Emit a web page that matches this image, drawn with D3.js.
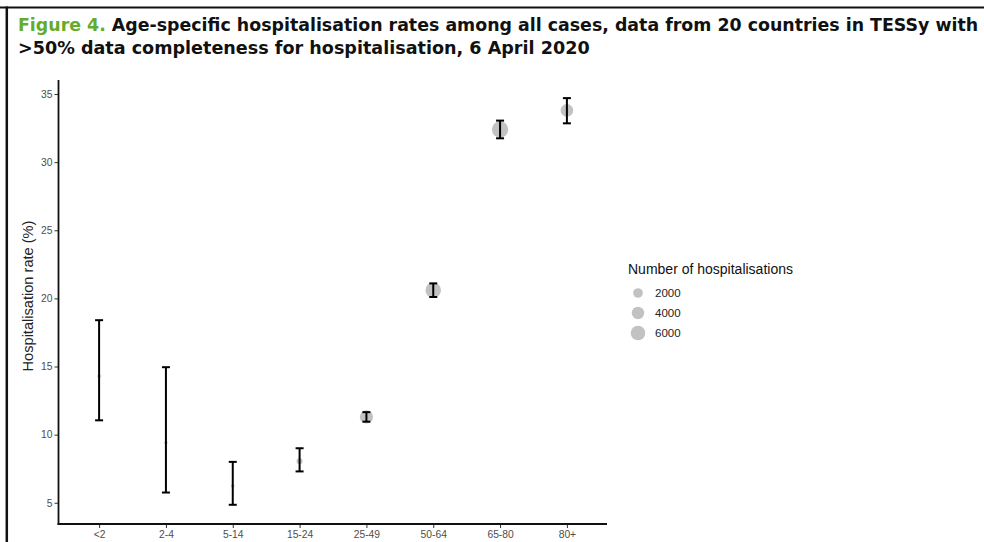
<!DOCTYPE html>
<html>
<head>
<meta charset="utf-8">
<script src="https://cdn.jsdelivr.net/npm/d3@7"></script>
<style>
  html, body { margin: 0; padding: 0; background: #fff; }
  svg { display: block; }
</style>
</head>
<body>
<svg id="chart" width="984" height="542"></svg>
<script>
// ---- Data ----
const ageGroups = ["<2", "2-4", "5-14", "15-24", "25-49", "50-64", "65-80", "80+"];
const rate      = [14.3, 9.4, 6.25, 8.05, 11.3, 20.6, 32.4, 33.8];
const lowerCI   = [11.05, 5.75, 4.85, 7.3, 10.95, 20.1, 31.75, 32.85];
const upperCI   = [18.4, 14.95, 8.0, 9.0, 11.65, 21.1, 33.05, 34.7];
const hospitalisations = [25, 10, 20, 400, 4700, 7000, 8000, 4200];
const yTicks = [5, 10, 15, 20, 25, 30, 35];
const legendValues = [2000, 4000, 6000];

const titleGreen = "Figure 4.";
const titleLine1 = " Age-specific hospitalisation rates among all cases, data from 20 countries in TESSy with";
const titleLine2 = ">50% data completeness for hospitalisation, 6 April 2020";

const svg = d3.select("#chart");

// frame
svg.append("line").attr("x1", 0).attr("x2", 984).attr("y1", 7.5).attr("y2", 7.5)
  .attr("stroke", "#111").attr("stroke-width", 2.2);
svg.append("line").attr("x1", 6.8).attr("x2", 6.8).attr("y1", 6.5).attr("y2", 542)
  .attr("stroke", "#111").attr("stroke-width", 2.5);

// title
function fitText(sel, x, width) {
  const w = sel.node().getComputedTextLength();
  const sx = width / w;
  sel.attr("transform", `translate(${x},0) scale(${sx},1) translate(${-x},0)`);
}
const t1 = svg.append("text").attr("x", 18).attr("y", 31)
  .attr("font-family", "DejaVu Sans, Verdana, sans-serif")
  .attr("font-weight", "bold").attr("font-size", 18).attr("fill", "#111");
t1.append("tspan").attr("fill", "#64ac2c").text(titleGreen);
t1.append("tspan").text(titleLine1);
fitText(t1, 18, 961);
const t2 = svg.append("text").attr("x", 18).attr("y", 54)
  .attr("font-family", "DejaVu Sans, Verdana, sans-serif")
  .attr("font-weight", "bold").attr("font-size", 18).attr("fill", "#111")
  .text(titleLine2);
fitText(t2, 18, 572);

// scales
const x = d3.scalePoint().domain(ageGroups).range([59, 607]).padding(0.6);
const y = d3.scaleLinear().domain([3.44, 36.03]).range([524, 80]);
const diam = n => 3 + 12.5 * Math.sqrt(n / 7000);

const font = "Liberation Sans, Arial, sans-serif";

// y axis
const gy = svg.append("g").attr("transform", "translate(58.5,0)")
  .call(d3.axisLeft(y).tickValues(yTicks).tickSize(4).tickPadding(2));
gy.select(".domain").remove();
gy.selectAll(".tick line").attr("stroke", "#333").attr("stroke-width", 1);
gy.selectAll(".tick text").attr("font-family", font).attr("font-size", 10.3).attr("fill", "#4d4d4d");

// x axis
const gx = svg.append("g").attr("transform", "translate(0,524)")
  .call(d3.axisBottom(x).tickSize(4).tickPadding(3));
gx.select(".domain").remove();
gx.selectAll(".tick line").attr("stroke", "#333").attr("stroke-width", 1);
gx.selectAll(".tick text").attr("font-family", font).attr("font-size", 10.3).attr("fill", "#4d4d4d");

// axis lines
svg.append("line").attr("x1", 58.5).attr("x2", 58.5).attr("y1", 80).attr("y2", 525)
  .attr("stroke", "#111").attr("stroke-width", 1.8);
svg.append("line").attr("x1", 57.6).attr("x2", 607).attr("y1", 524).attr("y2", 524)
  .attr("stroke", "#111").attr("stroke-width", 1.8);

// y axis title
svg.append("text")
  .attr("transform", `translate(33,${(80 + 524) / 2 - 6}) rotate(-90)`)
  .attr("text-anchor", "middle")
  .attr("font-family", font).attr("font-size", 14.6).attr("fill", "#222")
  .text("Hospitalisation rate (%)");

const data = ageGroups.map((g, i) => ({ g, r: rate[i], lo: lowerCI[i], hi: upperCI[i], n: hospitalisations[i] }));

// points
svg.append("g").selectAll("circle").data(data).join("circle")
  .attr("cx", d => x(d.g)).attr("cy", d => y(d.r))
  .attr("r", d => diam(d.n) / 2)
  .attr("fill", "#c2c2c2");

// error bars
const eb = svg.append("g").attr("stroke", "#000").attr("stroke-width", 2).attr("fill", "none");
const capW = 4;
data.forEach(d => {
  const cx = x(d.g);
  eb.append("line").attr("x1", cx).attr("x2", cx).attr("y1", y(d.lo)).attr("y2", y(d.hi));
  eb.append("line").attr("x1", cx - capW).attr("x2", cx + capW).attr("y1", y(d.lo)).attr("y2", y(d.lo));
  eb.append("line").attr("x1", cx - capW).attr("x2", cx + capW).attr("y1", y(d.hi)).attr("y2", y(d.hi));
});

// legend
const lg = svg.append("g");
lg.append("text").attr("x", 628).attr("y", 274)
  .attr("font-family", font).attr("font-size", 14).attr("fill", "#111")
  .text("Number of hospitalisations");
legendValues.forEach((v, i) => {
  const cy = 293 + i * 20;
  lg.append("circle").attr("cx", 638).attr("cy", cy).attr("r", diam(v) / 2).attr("fill", "#c2c2c2");
  lg.append("text").attr("x", 655).attr("y", cy + 4)
    .attr("font-family", font).attr("font-size", 11.5).attr("fill", "#222")
    .text(v);
});
</script>
</body>
</html>
